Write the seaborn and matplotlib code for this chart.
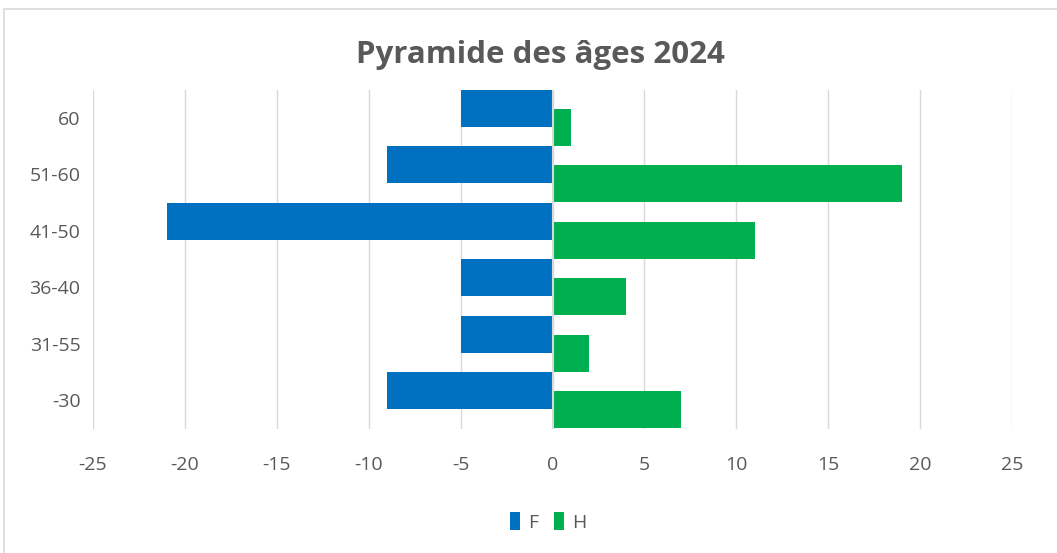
import matplotlib
matplotlib.use("Agg")
import matplotlib.pyplot as plt
import seaborn as sns
import pandas as pd
import numpy as np
from matplotlib.patches import Rectangle

categories = ["60", "51-60", "41-50", "36-40", "31-55", "-30"]
f_values = [-5, -9, -21, -5, -5, -9]
h_values = [1, 19, 11, 4, 2, 7]
x_ticks = [-25, -20, -15, -10, -5, 0, 5, 10, 15, 20, 25]

sns.set_theme(style="white")
plt.rcParams['font.family'] = ['Open Sans', 'DejaVu Sans']

fig = plt.figure(figsize=(10.57, 5.53), dpi=100)
ax = fig.add_axes([93/1057, 1-428.5/553, (1012-93)/1057, (428.5-89.5)/553])

df_f = pd.DataFrame({"cat": categories, "val": f_values})
df_h = pd.DataFrame({"cat": categories, "val": h_values})

bw = 0.65
off = 0.17
sns.barplot(data=df_f, x="val", y="cat", orient="h", color="#0070C0",
            width=bw, ax=ax, saturation=1, label="F", zorder=3)
n_f = len(ax.patches)
sns.barplot(data=df_h, x="val", y="cat", orient="h", color="#00B050",
            width=bw, ax=ax, saturation=1, label="H", zorder=3)
for i, p in enumerate(ax.patches):
    p.set_y(p.get_y() + (-off if i < n_f else off))
    p.set_edgecolor("none")

ax.set_xlim(-25, 25)
ax.set_ylim(5.5, -0.5)
ax.set_xticks(x_ticks)
ax.set_xticklabels([str(t) for t in x_ticks])
ax.grid(axis="x", color="#D9D9D9", linewidth=1, zorder=0)
ax.axvline(0, color="#D9D9D9", linewidth=1.5, zorder=4)
for s in ax.spines.values():
    s.set_visible(False)
ax.set_xlabel("")
ax.set_ylabel("")
ax.tick_params(axis="both", length=0, labelsize=14, labelcolor="#595959")
ax.tick_params(axis="x", pad=20)
ax.tick_params(axis="y", pad=9)

fig.text(540/1057, 1-55/553, "Pyramide des âges 2024", ha="center", va="center",
         fontsize=22.5, fontweight="bold", color="#595959")

leg = ax.legend(loc="center", bbox_to_anchor=(548/1057, 1-522/553),
                bbox_transform=fig.transFigure, ncol=2, frameon=False,
                fontsize=14, handlelength=0.55, handleheight=1.0,
                handletextpad=0.4, columnspacing=0.8)
for t in leg.get_texts():
    t.set_color("#595959")

fig.patches.append(Rectangle((4/1057, -0.1), 1.2, 1 - 9/553 + 0.1,
                             transform=fig.transFigure, fill=False,
                             edgecolor="#D9D9D9", linewidth=1.2))

fig.savefig("out.png", dpi=100)
